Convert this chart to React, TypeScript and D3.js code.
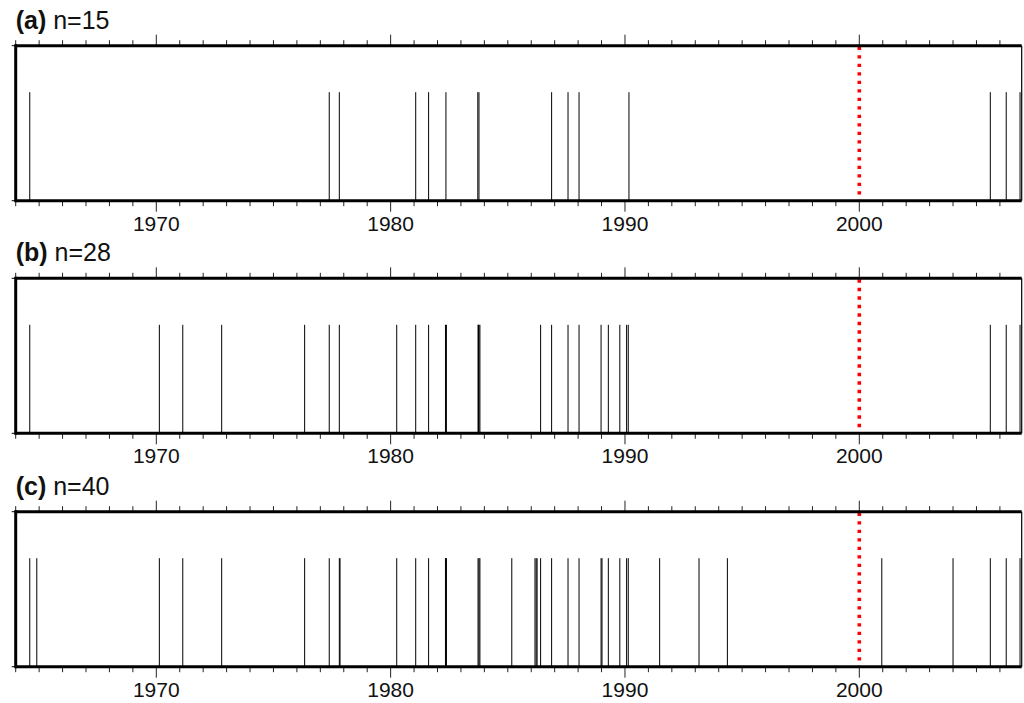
import React from "react";
import * as d3 from "d3";

const panelLabels = ["(a)", "(b)", "(c)"];
const panelCounts = ["n=15", "n=28", "n=40"];

const eventsA = [
  1964.6, 1977.38, 1977.81, 1981.07, 1981.62, 1982.36, 1983.72, 1983.77,
  1986.87, 1987.57, 1988.04, 1990.17, 2005.59, 2006.27, 2006.86,
];

const eventsB = [
  1964.6, 1970.13, 1971.13, 1972.79, 1976.33, 1977.38, 1977.81, 1980.26,
  1981.07, 1981.62, 1982.34, 1982.38, 1983.73, 1983.75, 1983.77, 1983.81,
  1986.4, 1986.87, 1987.57, 1988.04, 1988.98, 1989.29, 1989.78, 1990.07,
  1990.14, 2005.59, 2006.27, 2006.86,
];

const eventsC = [
  1964.6, 1964.9, 1970.13, 1971.13, 1972.79, 1976.33, 1977.38, 1977.81,
  1977.84, 1980.26, 1981.07, 1981.62, 1982.34, 1982.36, 1982.38, 1983.73,
  1983.77, 1983.81, 1985.17, 1986.16, 1986.21, 1986.25, 1986.4, 1986.87,
  1987.57, 1988.04, 1988.98, 1989.02, 1989.29, 1989.78, 1990.07, 1990.14,
  1991.48, 1993.16, 1994.37, 2000.96, 2004.0, 2005.59, 2006.27, 2006.86,
];

const panelEvents = [eventsA, eventsB, eventsC];
const xDomain = [1964, 2006.93];
const majorTicks = [1970, 1980, 1990, 2000];
const markerYear = 2000;
const spikeHeight = 0.7;

const W = 1024;
const H = 703;
const left = 15.7;
const right = 1021.7;
const panelTops = [45.7, 278.3, 511.7];
const panelH = 155;

export default function App() {
  const x = d3.scaleLinear().domain(xDomain).range([left, right]);
  const minorTicks = d3.range(Math.ceil(xDomain[0]), Math.floor(xDomain[1]) + 1);
  const font = "'Liberation Sans', Arial, Helvetica, sans-serif";

  return (
    <svg
      width={W}
      height={H}
      style={{ position: "absolute", left: 0, top: 0, background: "#fff" }}
    >
      {panelEvents.map((events, i) => {
        const top = panelTops[i];
        const bottom = top + panelH;
        const y = d3.scaleLinear().domain([0, 1]).range([bottom, top]);
        return (
          <g key={i}>
            <text x={left} y={top - 17} fontFamily={font} fontSize={25} fill="#111">
              <tspan fontWeight="bold">{panelLabels[i]}</tspan>
              <tspan> {panelCounts[i]}</tspan>
            </text>
            {events.map((e, j) => (
              <line
                key={j}
                x1={x(e)}
                x2={x(e)}
                y1={y(0)}
                y2={y(spikeHeight)}
                stroke="#000"
                strokeWidth={1}
              />
            ))}
            <line
              x1={x(markerYear)}
              x2={x(markerYear)}
              y1={y(1) + 1}
              y2={y(0)}
              stroke="#ff0000"
              strokeWidth={3.6}
              strokeDasharray="3.4 5.1"
            />
            {minorTicks.map((t) => {
              const major = majorTicks.includes(t);
              const len = major ? 11 : 5.5;
              return (
                <g key={t}>
                  <line x1={x(t)} x2={x(t)} y1={top} y2={top - len} stroke="#222" strokeWidth={1} />
                  <line x1={x(t)} x2={x(t)} y1={bottom} y2={bottom + len} stroke="#222" strokeWidth={1} />
                </g>
              );
            })}
            {majorTicks.map((t) => (
              <text
                key={t}
                x={x(t)}
                y={bottom + 30}
                textAnchor="middle"
                fontFamily={font}
                fontSize={21}
                fill="#111"
              >
                {t}
              </text>
            ))}
            <line x1={left - 4} x2={left} y1={top} y2={top} stroke="#000" strokeWidth={1} />
            <line x1={left - 4} x2={left} y1={bottom} y2={bottom} stroke="#000" strokeWidth={1} />
            <line x1={left} x2={right} y1={top} y2={top} stroke="#000" strokeWidth={3} />
            <line x1={left} x2={right} y1={bottom} y2={bottom} stroke="#000" strokeWidth={3} />
            <line x1={left} x2={left} y1={top - 1.5} y2={bottom + 1.5} stroke="#000" strokeWidth={3} />
            <line x1={right} x2={right} y1={top} y2={bottom} stroke="#000" strokeWidth={1.2} />
          </g>
        );
      })}
    </svg>
  );
}
